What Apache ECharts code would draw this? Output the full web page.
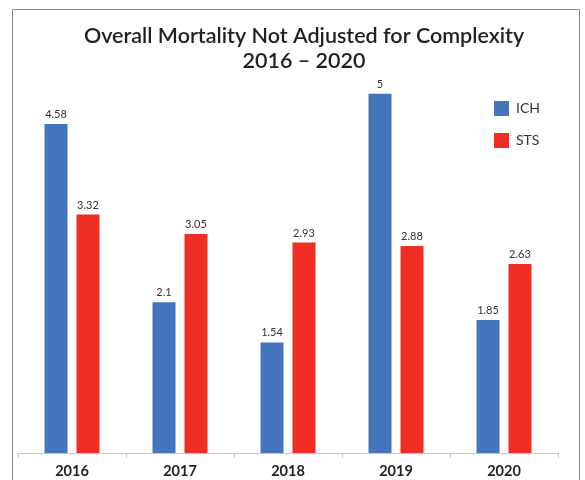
<!DOCTYPE html>
<html><head><meta charset="utf-8">
<script src="https://cdn.jsdelivr.net/npm/echarts@6/dist/echarts.min.js"></script>
<style>html,body{margin:0;padding:0;background:#fff}#c{width:585px;height:480px}</style>
</head><body><div id="c"></div>
<script>
const categories = ['2016', '2017', '2018', '2019', '2020'];
const ichValues = [4.58, 2.1, 1.54, 5, 1.85];
const stsValues = [3.32, 3.05, 2.93, 2.88, 2.63];
const seriesNames = ['ICH', 'STS'];

const chart = echarts.init(document.getElementById('c'));
const font = 'Lato, "Open Sans", sans-serif';
chart.setOption({
  animation: false,
  backgroundColor: '#fff',
  graphic: [{
    type: 'rect', shape: {x: 12.5, y: 9.5, width: 567, height: 500},
    style: {fill: 'none', stroke: '#8a8a8a', lineWidth: 1}, silent: true, z: 0
  }],
  title: {
    text: 'Overall Mortality Not Adjusted for Complexity\n2016 – 2020',
    left: 299, textAlign: 'center', top: 19,
    textStyle: {fontFamily: font, fontSize: 21.5, fontWeight: 600, color: '#231f20', lineHeight: 25}
  },
  legend: {
    orient: 'vertical', left: 489, top: 96, itemWidth: 15, itemHeight: 15, itemGap: 17,
    icon: 'rect',
    textStyle: {fontFamily: font, fontSize: 14, color: '#333', padding: [0, 0, 0, 2]},
    data: seriesNames
  },
  grid: {left: 18, right: 27, top: 22, bottom: 27, containLabel: false},
  xAxis: {
    type: 'category', data: categories,
    axisLine: {lineStyle: {color: '#c8c8c8', width: 1}},
    axisTick: {show: true, length: 5, lineStyle: {color: '#c8c8c8'}},
    axisLabel: {fontFamily: font, fontSize: 14.5, fontWeight: 'bold', color: '#231f20', margin: 11}
  },
  yAxis: {type: 'value', min: 0, max: 6, show: false, splitLine: {show: false}},
  series: [
    {name: seriesNames[0], type: 'bar', data: ichValues, barWidth: 23, barGap: '39%',
     itemStyle: {color: '#4575bd'},
     label: {show: true, position: 'top', distance: 4, fontFamily: font, fontSize: 11, color: '#333'}},
    {name: seriesNames[1], type: 'bar', data: stsValues, barWidth: 23,
     itemStyle: {color: '#ef2d24'},
     label: {show: true, position: 'top', distance: 4, fontFamily: font, fontSize: 11, color: '#333'}}
  ]
});
</script></body></html>
